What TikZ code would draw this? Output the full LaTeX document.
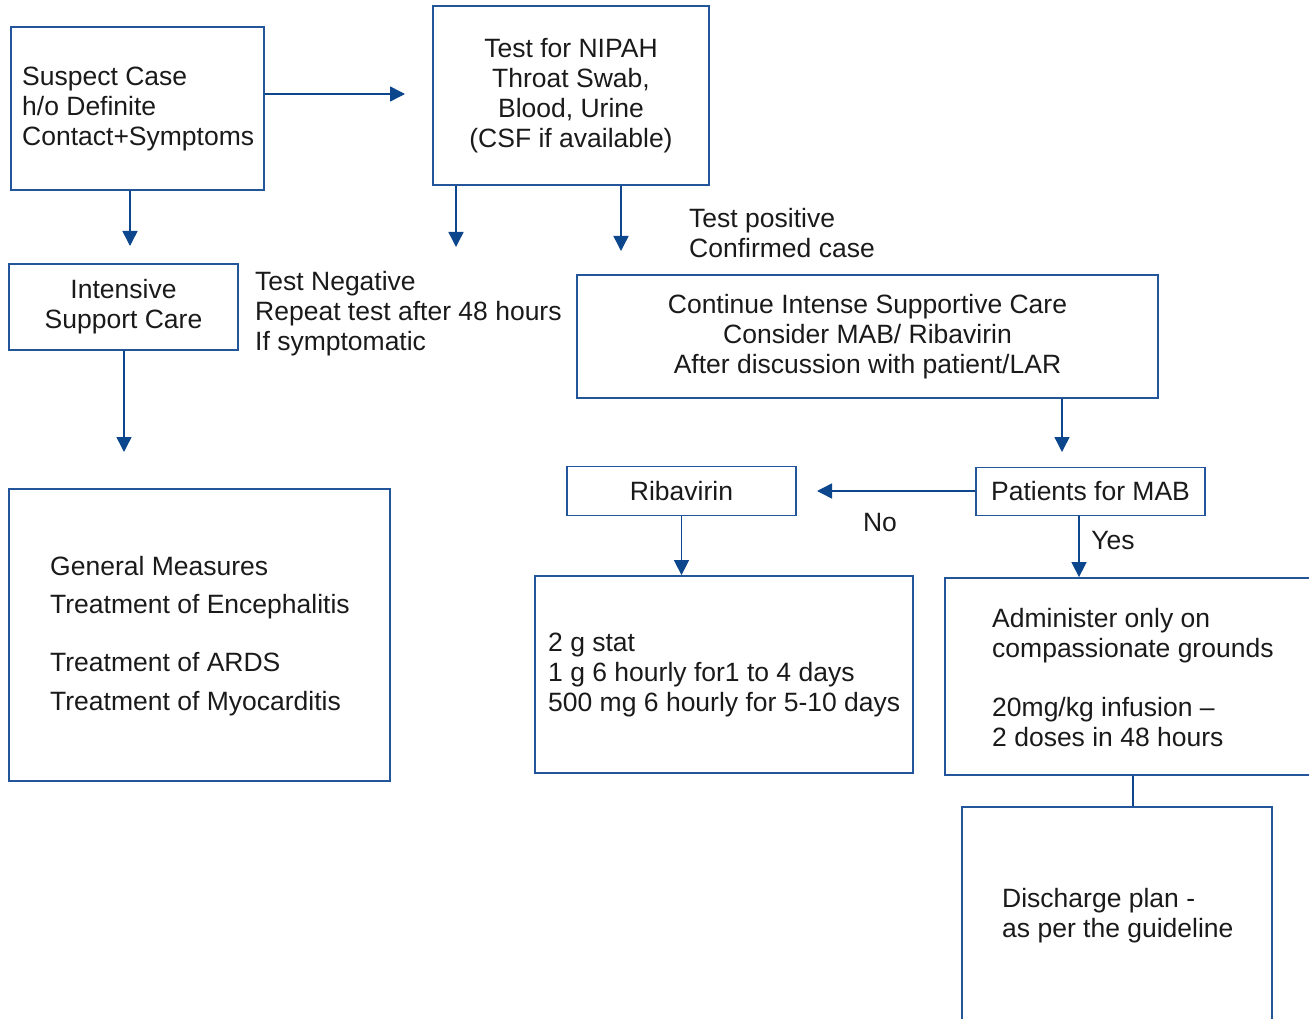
\documentclass[tikz,border=0pt]{standalone}
\usepackage{fontspec}
\setmainfont{Liberation Sans}
\usetikzlibrary{arrows.meta,calc}
\definecolor{boxc}{RGB}{35,85,155}
\definecolor{arrc}{RGB}{12,70,140}
\definecolor{txtc}{RGB}{26,26,26}
\begin{document}
\begin{tikzpicture}[x=1pt,y=-1pt,
  every node/.style={font=\fontsize{26.5}{30}\selectfont, text=txtc},
  box/.style={draw=boxc, line width=1.8pt, inner sep=0pt},
  ltxt/.style={anchor=west, align=left, inner sep=0pt},
  arr/.style={draw=arrc, line width=1.5pt, -{Triangle[length=15pt,width=15pt]}},
  ln/.style={draw=arrc, line width=1.5pt}]
\useasboundingbox (0,0) rectangle (1309,1019);
\clip (0,0) rectangle (1309,1019);

% boxes
\node[box, minimum width=253pt, minimum height=163pt] (sus) at (137.5,108.5) {};
\node[ltxt] (sust) at (22,108.5) {Suspect Case\\h/o Definite\\Contact+Symptoms};
\node[box, minimum width=276pt, minimum height=179pt, align=center]
  (nip) at (571,95.5) {Test for NIPAH\\Throat Swab,\\Blood, Urine\\(CSF if available)};
\node[box, minimum width=229pt, minimum height=86pt, align=center, text depth=7pt]
  (isc) at (123.5,307) {Intensive\\Support Care};
\node[box, minimum width=581pt, minimum height=123pt, align=center]
  (cont) at (867.5,336.5) {Continue Intense Supportive Care\\Consider MAB/ Ribavirin\\After discussion with patient/LAR};
\node[box, minimum width=381pt, minimum height=292pt] (gen) at (199.5,635) {};
\node[ltxt] (gent) at (50,636) {General Measures\\[8pt]Treatment of Encephalitis\\[28pt]Treatment of ARDS\\[9pt]Treatment of Myocarditis};
\node[box, minimum width=229pt, minimum height=49pt, align=center]
  (rib) at (681.5,491) {Ribavirin};
\node[box, minimum width=229pt, minimum height=48pt, align=center]
  (mab) at (1090.5,491.5) {Patients for MAB};
\node[box, minimum width=378pt, minimum height=197pt] (dose) at (724,674.5) {};
\node[ltxt] (doset) at (548,674.5) {2 g stat\\1 g 6 hourly for1 to 4 days\\500 mg 6 hourly for 5-10 days};
\node[box, minimum width=380pt, minimum height=197pt] (adm) at (1135,676.5) {};
\node[ltxt] (admt) at (992,678) {Administer only on\\compassionate grounds\\[29pt]20mg/kg infusion \textendash\\2 doses in 48 hours};
\node[box, minimum width=310pt, minimum height=215pt] (dis) at (1117,914.5) {};
\node[ltxt] (dist) at (1002,915.5) {Discharge plan -\\as per the guideline};

% free labels
\node[ltxt] (pos) at (689,233) {Test positive\\Confirmed case};
\node[ltxt] (neg) at (255,314) {Test Negative\\Repeat test after 48 hours\\If symptomatic};
\node[inner sep=0pt] (no) at (880,523) {No};
\node[inner sep=0pt] (yes) at (1113,541) {Yes};

% connectors
\coordinate (a1) at (405,94);
\draw[arr] (sus.east |- a1) -- (a1);
\coordinate (a2) at (130,246);
\draw[arr] (sus.south -| a2) -- (a2);
\coordinate (a3) at (456,247);
\draw[arr] (nip.south -| a3) -- (a3);
\coordinate (a4) at (621,251);
\draw[arr] (nip.south -| a4) -- (a4);
\coordinate (a5) at (124,452);
\draw[arr] (isc.south -| a5) -- (a5);
\coordinate (a6) at (1062,452);
\draw[arr] (cont.south -| a6) -- (a6);
\coordinate (a7) at (817,491);
\draw[arr] (mab.west |- a7) -- (a7);
\draw[arr] (rib.south) -- (dose.north -| rib.south);
\coordinate (a8) at (1079,0);
\draw[arr] (mab.south -| a8) -- (adm.north -| a8);
\coordinate (a9) at (1133,0);
\draw[ln] (adm.south -| a9) -- (dis.north -| a9);
\end{tikzpicture}
\end{document}
